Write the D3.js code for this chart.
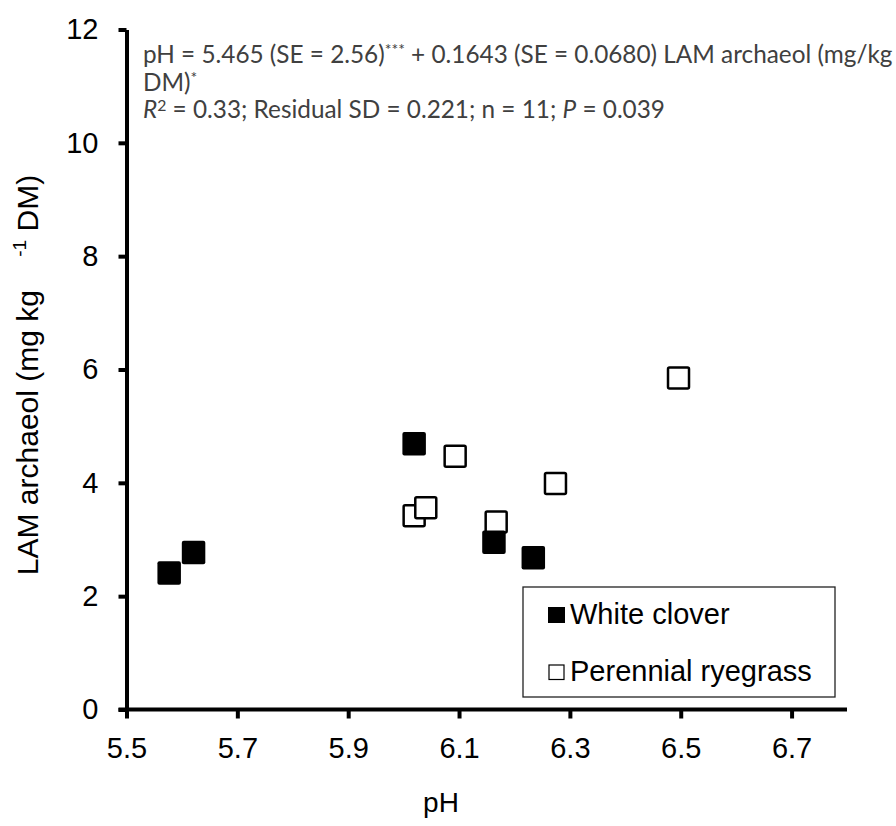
<!DOCTYPE html>
<html>
<head>
<meta charset="utf-8">
<script src="https://d3js.org/d3.v7.min.js"></script>
<style>
  body { margin: 0; background: #fff; }
  svg text { font-family: "Liberation Sans", Arial, sans-serif; }
  svg text.note { font-family: Lato, "Open Sans", sans-serif; }
</style>
</head>
<body>
<div id="viz"></div>
<script>
var width = 896;
var height = 826;

// data
var cloverPH = [5.577, 5.621, 6.019, 6.163, 6.234];
var cloverLAM = [2.41, 2.77, 4.69, 2.95, 2.68];
var ryegrassPH = [6.019, 6.040, 6.093, 6.167, 6.274, 6.496];
var ryegrassLAM = [3.42, 3.56, 4.47, 3.31, 3.99, 5.85];

var xTicks = [5.5, 5.7, 5.9, 6.1, 6.3, 6.5, 6.7];
var yTicks = [0, 2, 4, 6, 8, 10, 12];
var legendNames = ["White clover", "Perennial ryegrass"];

var svg = d3.select("#viz")
    .append("svg")
    .attr("width", width)
    .attr("height", height);

var x = d3.scaleLinear()
    .domain([5.5, 6.8])
    .range([126.5, 847]);

var y = d3.scaleLinear()
    .domain([0, 12])
    .range([709.5, 29.5]);

// y axis
var yAxis = svg.append("g")
    .attr("transform", "translate(" + x(5.5) + ",0)")
    .call(d3.axisLeft(y).tickValues(yTicks).tickSize(8).tickSizeOuter(0).tickPadding(20));

yAxis.select(".domain").attr("stroke-width", 4);
yAxis.selectAll(".tick line").attr("stroke-width", 4);
yAxis.selectAll("text")
    .style("font-size", "29px")
    .attr("fill", "#000");

// x axis
var xAxis = svg.append("g")
    .attr("transform", "translate(0," + y(0) + ")")
    .call(d3.axisBottom(x).tickValues(xTicks).tickSize(9).tickSizeOuter(0).tickPadding(19)
      .tickFormat(d3.format(".1f")));

xAxis.select(".domain")
    .attr("d", "M" + (x(5.5) - 8) + ",0H" + x(6.8))
    .attr("stroke-width", 4);
xAxis.selectAll(".tick line").attr("stroke-width", 4);
xAxis.selectAll("text")
    .style("font-size", "29px")
    .attr("fill", "#000");

// axis titles
svg.append("text")
    .attr("x", 441)
    .attr("y", 812)
    .attr("text-anchor", "middle")
    .style("font-size", "28px")
    .text("pH");

var yTitle = svg.append("text")
    .attr("transform", "translate(38,375) rotate(-90)")
    .attr("text-anchor", "middle")
    .style("font-size", "30px");
yTitle.append("tspan").text("LAM archaeol (mg kg\u00a0\u00a0\u00a0 ");
yTitle.append("tspan").attr("dy", -12).style("font-size", "19px").text("-1");
yTitle.append("tspan").attr("dy", 12).text(" DM)");

// markers
var size = 23.5;
svg.selectAll(".rye")
    .data(ryegrassPH)
    .enter()
    .append("rect")
    .attr("class", "rye")
    .attr("x", function(d) { return x(d) - size / 2 + 1.25; })
    .attr("y", function(d, i) { return y(ryegrassLAM[i]) - size / 2 + 1.25; })
    .attr("width", size - 2.5)
    .attr("height", size - 2.5)
    .attr("rx", 1.5)
    .attr("fill", "#fff")
    .attr("stroke", "#000")
    .attr("stroke-width", 2.5);

svg.selectAll(".clover")
    .data(cloverPH)
    .enter()
    .append("rect")
    .attr("class", "clover")
    .attr("x", function(d) { return x(d) - size / 2; })
    .attr("y", function(d, i) { return y(cloverLAM[i]) - size / 2; })
    .attr("width", size)
    .attr("height", size)
    .attr("rx", 2)
    .attr("fill", "#000");

// legend
var legend = svg.append("g").attr("id", "legend");
legend.append("rect")
    .attr("x", 523)
    .attr("y", 587)
    .attr("width", 312)
    .attr("height", 110)
    .attr("fill", "#fff")
    .attr("stroke", "#222")
    .attr("stroke-width", 1.3);

var legenditem = legend.selectAll(".legenditem")
    .data(legendNames)
    .enter()
    .append("g")
    .attr("class", "legenditem")
    .attr("transform", function(d, i) { return "translate(0," + (i * 57) + ")"; });

legenditem.append("rect")
    .attr("x", function(d, i) { return i == 0 ? 548 : 549; })
    .attr("y", function(d, i) { return i == 0 ? 607 : 608; })
    .attr("width", function(d, i) { return i == 0 ? 17 : 15; })
    .attr("height", function(d, i) { return i == 0 ? 16 : 14.5; })
    .attr("fill", function(d, i) { return i == 0 ? "#000" : "#fff"; })
    .attr("stroke", function(d, i) { return i == 0 ? "none" : "#000"; })
    .attr("stroke-width", 1.2);

legenditem.append("text")
    .attr("x", 570)
    .attr("y", 624)
    .style("font-size", "29px")
    .text(function(d) { return d; });

// regression annotation
var note = svg.append("g")
    .attr("fill", "#404040");

var line1 = note.append("text").attr("class", "note").attr("x", 143).attr("y", 63);
line1.append("tspan").text("pH = 5.465 (SE = 2.56)");
line1.append("tspan").attr("class", "sup").attr("dy", -8).text("***");
line1.append("tspan").attr("dy", 8).text(" + 0.1643 (SE = 0.0680) LAM archaeol (mg/kg");

var line2 = note.append("text").attr("class", "note").attr("x", 143).attr("y", 91);
line2.append("tspan").text("DM)");
line2.append("tspan").attr("class", "sup").attr("dy", -8).text("*");

var line3 = note.append("text").attr("class", "note").attr("x", 143).attr("y", 118);
line3.append("tspan").style("font-style", "italic").text("R");
line3.append("tspan").attr("class", "sup").attr("dy", -7).text("2");
line3.append("tspan").attr("dy", 7).text(" = 0.33; Residual SD = 0.221; n = 11; ");
line3.append("tspan").style("font-style", "italic").text("P");
line3.append("tspan").text(" = 0.039");

// squeeze the note to the width it has in the picture
note.selectAll("text").style("font-size", "20px");
note.selectAll(".sup").style("font-size", "13px");
var k = 750 / line1.node().getComputedTextLength();
note.selectAll("text").style("font-size", (20 * k) + "px");
note.selectAll(".sup").style("font-size", (13 * k) + "px");
</script>
</body>
</html>
